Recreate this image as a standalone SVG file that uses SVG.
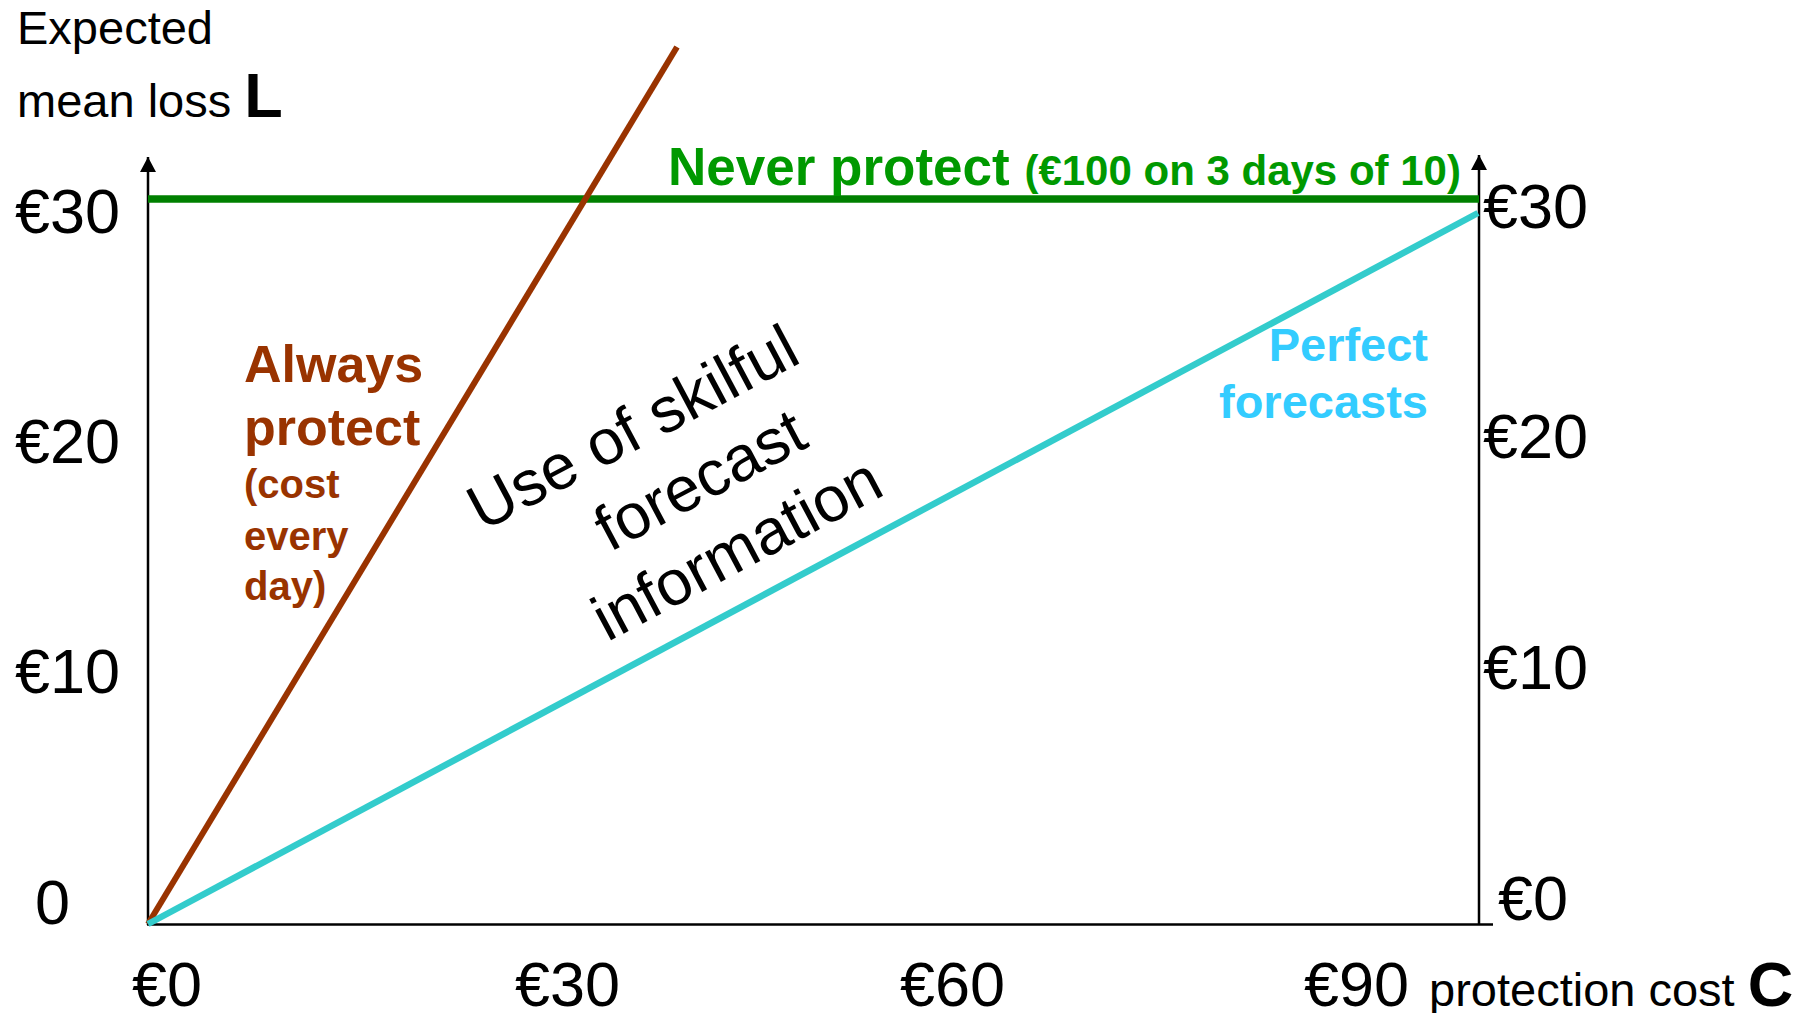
<svg xmlns="http://www.w3.org/2000/svg" width="1816" height="1013" viewBox="0 0 1816 1013">
<style>
text{font-family:"Liberation Sans",Arial,sans-serif;}
.ax{stroke:#000;stroke-width:2.5;fill:none;}
.tick{font-size:63px;fill:#000;}
.bold{font-weight:bold;}
.brown{fill:#993300;font-weight:bold;}
.cyan{fill:#33ccff;font-weight:bold;}
.green{fill:#009900;font-weight:bold;}
</style>
<defs>
<marker id="arr" markerUnits="userSpaceOnUse" markerWidth="18" markerHeight="18" viewBox="0 0 18 18" refX="15" refY="9" orient="auto">
<path d="M0,1 L15,9 L0,17 Z" fill="#000"/>
</marker>
</defs>
<rect width="1816" height="1013" fill="#fff"/>
<g id="axes">
<line class="ax" x1="148" y1="925" x2="148" y2="157" marker-end="url(#arr)"/>
<line class="ax" x1="1479" y1="925" x2="1479" y2="155" marker-end="url(#arr)"/>
<line class="ax" x1="147" y1="924.5" x2="1493" y2="924.5" stroke-width="3"/>
</g>
<g id="connectors">
<line id="never" x1="148" y1="199" x2="1479" y2="199" stroke="#008000" stroke-width="7.5"/>
<line id="always" x1="148" y1="924" x2="677" y2="47" stroke="#993300" stroke-width="6"/>
<line id="perfect" x1="148" y1="924" x2="1478" y2="213" stroke="#33cccc" stroke-width="6.5"/>
</g>
<g id="y-title">
<text x="17" y="44" font-size="47">Expected</text>
<text x="17" y="117" font-size="47">mean loss <tspan class="bold" font-size="63">L</tspan></text>
</g>
<g id="left-ticks" class="tick">
<text x="15" y="233">€30</text>
<text x="15" y="463">€20</text>
<text x="15" y="693">€10</text>
<text x="35" y="924">0</text>
</g>
<g id="right-ticks" class="tick">
<text x="1483" y="228">€30</text>
<text x="1483" y="458">€20</text>
<text x="1483" y="689">€10</text>
<text x="1498" y="920">€0</text>
</g>
<g id="x-ticks" class="tick">
<text x="132" y="1006">€0</text>
<text x="515" y="1006">€30</text>
<text x="900" y="1006">€60</text>
<text x="1304" y="1006">€90</text>
<text x="1429" y="1006" font-size="47">protection cost <tspan class="bold" font-size="63">C</tspan></text>
</g>
<g id="label-never">
<text class="green" x="668" y="185" font-size="53">Never protect <tspan font-size="42">(€100 on 3 days of 10)</tspan></text>
</g>
<g id="label-always" class="brown">
<text x="244" y="382" font-size="52">Always</text>
<text x="244" y="445" font-size="52">protect</text>
<text x="244" y="498" font-size="40">(cost</text>
<text x="244" y="550" font-size="40">every</text>
<text x="244" y="600" font-size="40">day)</text>
</g>
<g id="label-perfect" class="cyan" text-anchor="end" font-size="47">
<text x="1428" y="361">Perfect</text>
<text x="1428" y="418">forecasts</text>
</g>
<g id="label-skill" transform="translate(705,502) rotate(-28)" font-size="64" text-anchor="middle">
<text x="-29" y="-78">Use of skilful</text>
<text x="6" y="0">forecast</text>
<text x="6" y="78">information</text>
</g>
</svg>
